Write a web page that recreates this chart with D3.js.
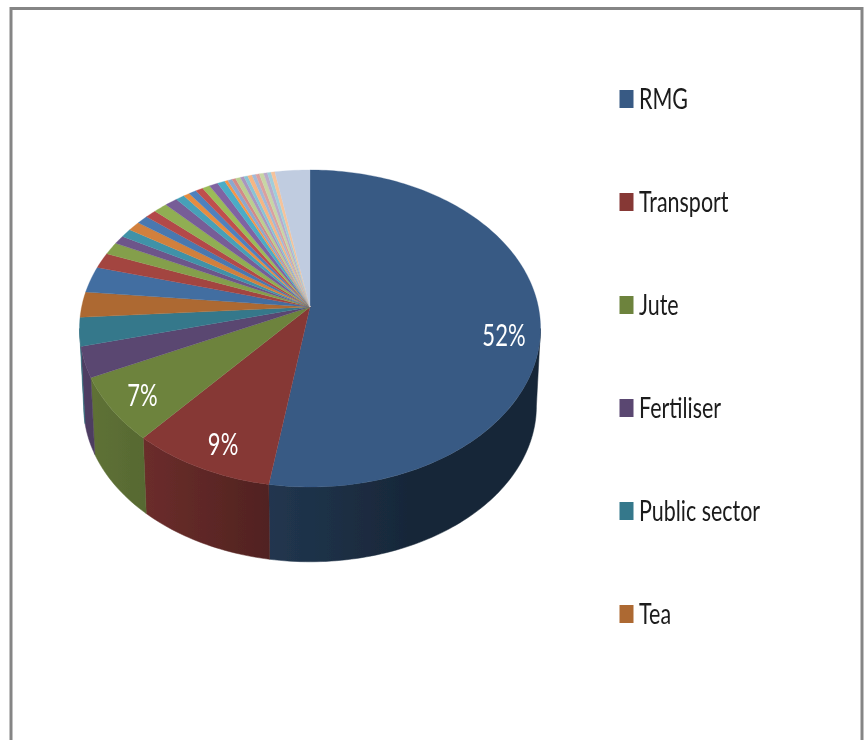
<!DOCTYPE html>
<html>
<head>
<meta charset="utf-8">
<style>
  html, body { margin: 0; padding: 0; background: #fff; }
  svg { display: block; }
</style>
<script src="https://cdnjs.cloudflare.com/ajax/libs/d3/7.8.5/d3.min.js"></script>
</head>
<body>
<div id="chart"></div>
<script>
// values, in percent
var categories = ["RMG", "Transport", "Jute", "Fertiliser", "Public sector", "Tea"];
var values = [52.6, 8.9, 6.6, 3.1, 2.9, 2.6, 2.7, 1.6, 1.3, 0.9, 0.9, 1.0, 0.9, 0.9, 1.1, 1.0, 0.7, 0.5,
  0.6, 0.6, 0.6, 0.7, 0.6, 0.25, 0.35, 0.3, 0.4, 0.3, 0.3, 0.35, 0.3, 0.3, 0.35, 0.3, 0.3, 0.3, 2.8];
var labelled = [0, 1, 2];

// office palette, darkened then tinted on every pass
var accents = ["#4F81BD", "#C0504D", "#9BBB59", "#8064A2", "#4BACC6", "#F79646"];
var shades = [0.7, 0.85, 0.93, 1];
var tints = [0.36, 0.5, 0.68];

var width = 868, height = 740;
var apexX = 310, apexY = 307;
var rimA = 228.4, rimB = 155.6, tilt = 0.1356; // perspective of the top face
var floorScale = 0.982, floorDrop = 78;
var labelRadius = 0.87;
var labelNudge = [[-6, 17], [7, 0], [3, 0]];

function sliceColor(i) {
  var pass = Math.floor(i / accents.length);
  var base = d3.rgb(accents[i % accents.length]);
  if (pass < shades.length) {
    var s = shades[pass];
    return d3.rgb(base.r * s, base.g * s, base.b * s) + "";
  }
  return d3.interpolateRgb(base, "#f5f0f0")(tints[pass - shades.length]);
}

// angle 0 is twelve o'clock, clockwise; r is a fraction of the radius
function project(a, r, floor) {
  var u = Math.sin(a) * r, v = -Math.cos(a) * r;
  var d = 1 - tilt * v;
  var sc = floor ? floorScale : 1;
  return [apexX + u * rimA * sc / d, apexY + (floor ? floorDrop : 0) + v * rimB * sc / d];
}

function arcPoints(a0, a1, floor) {
  var n = Math.max(2, Math.ceil((a1 - a0) / 0.02));
  return d3.range(n + 1).map(function(k) {
    return project(a0 + (a1 - a0) * k / n, 1, floor);
  });
}

var line = d3.line();
var pie = d3.pie().sort(null)(values);
var total = d3.sum(values);
var pct = d3.format(".0%");

var svg = d3.select("#chart").append("svg")
  .attr("width", width)
  .attr("height", height);

var defs = svg.append("defs");
defs.append("filter").attr("id", "soft")
  .attr("filterUnits", "userSpaceOnUse")
  .attr("x", 0).attr("y", 0).attr("width", width).attr("height", height)
  .append("feGaussianBlur").attr("stdDeviation", 0.6);

// how dark the wall gets, from left to right
var wallX = [80, 145, 270, 420, 540];
var wallShade = [0.88, 0.8, 0.6, 0.42, 0.42];

// only this part of the rim faces the viewer
var wallFrom = Math.acos(-tilt), wallTo = 2 * Math.PI - wallFrom;

var root = svg.append("g").attr("filter", "url(#soft)");

// frame, the bottom edge is cut off by the picture
root.append("path")
  .attr("d", "M11 " + height + " V8.5 H862 V" + height)
  .attr("fill", "none")
  .attr("stroke", "#858585")
  .attr("stroke-width", 3);

// walls
pie.forEach(function(d, i) {
  var a0 = Math.max(d.startAngle, wallFrom), a1 = Math.min(d.endAngle, wallTo);
  if (a1 <= a0) return;
  var color = d3.rgb(sliceColor(i));
  var grad = defs.append("linearGradient")
    .attr("id", "wall" + i)
    .attr("gradientUnits", "userSpaceOnUse")
    .attr("x1", wallX[0]).attr("x2", wallX[wallX.length - 1])
    .attr("y1", 0).attr("y2", 0);
  wallX.forEach(function(x, j) {
    var s = wallShade[j];
    grad.append("stop")
      .attr("offset", (x - wallX[0]) / (wallX[wallX.length - 1] - wallX[0]))
      .attr("stop-color", d3.rgb(color.r * s, color.g * s, color.b * s) + "");
  });
  var pts = arcPoints(a0, a1, false).concat(arcPoints(a0, a1, true).reverse());
  root.append("path")
    .attr("d", line(pts) + "Z")
    .attr("fill", "url(#wall" + i + ")")
    .attr("stroke", "url(#wall" + i + ")")
    .attr("stroke-width", 0.5);
});

// top faces
pie.forEach(function(d, i) {
  var pts = [[apexX, apexY]].concat(arcPoints(d.startAngle, d.endAngle, false));
  root.append("path")
    .attr("d", line(pts) + "Z")
    .attr("fill", sliceColor(i))
    .attr("stroke", sliceColor(i))
    .attr("stroke-width", 0.3);
});

// data labels
labelled.forEach(function(i, n) {
  var d = pie[i];
  var p = project((d.startAngle + d.endAngle) / 2, labelRadius, false);
  root.append("text")
    .attr("transform", "translate(" + (p[0] + labelNudge[n][0]) + "," + (p[1] + labelNudge[n][1] + 11) + ") scale(0.71,1)")
    .attr("text-anchor", "middle")
    .attr("font-family", "Lato, sans-serif")
    .attr("font-size", 31)
    .attr("fill", "#fff")
    .text(pct(d.value / total));
});

// legend
var legendY = d3.scalePoint().domain(categories).range([99, 614]);
var legend = root.selectAll(".legend").data(categories).enter().append("g")
  .attr("class", "legend");
legend.append("rect")
  .attr("x", 619.5)
  .attr("y", function(d) { return legendY(d) - 9; })
  .attr("width", 14)
  .attr("height", 18)
  .attr("fill", function(d, i) { return sliceColor(i); });
legend.append("text")
  .attr("transform", function(d) { return "translate(639," + (legendY(d) + 10) + ") scale(0.74,1)"; })
  .attr("font-family", "Lato, sans-serif")
  .attr("font-size", 29)
  .attr("fill", "#1a1a1a")
  .text(function(d) { return d; });
</script>
</body>
</html>
